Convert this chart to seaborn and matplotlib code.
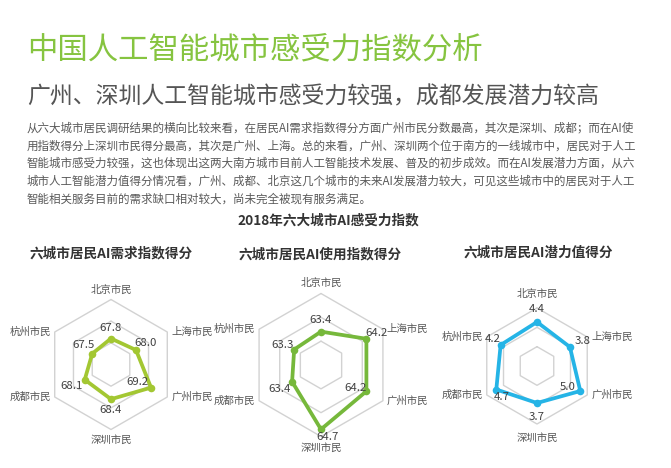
import numpy as np
import matplotlib
matplotlib.use("Agg")
import matplotlib.pyplot as plt
import seaborn as sns

# 数据
cities = ['北京市民', '上海市民', '广州市民', '深圳市民', '成都市民', '杭州市民']
demand = [67.8, 68.0, 69.2, 68.4, 68.1, 67.5]
usage = [63.4, 64.2, 64.2, 64.7, 63.4, 63.3]
potential = [4.4, 3.8, 5.0, 3.7, 4.7, 4.2]

demand_labels = ['67.8', '68.0', '69.2', '68.4', '68.1', '67.5']
usage_labels = ['63.4', '64.2', '64.2', '64.7', '63.4', '63.3']
potential_labels = ['4.4', '3.8', '5.0', '3.7', '4.7', '4.2']

title = '中国人工智能城市感受力指数分析'
subtitle = '广州、深圳人工智能城市感受力较强，成都发展潜力较高'
body = [
    '从六大城市居民调研结果的横向比较来看，在居民AI需求指数得分方面广州市民分数最高，其次是深圳、成都；而在AI使',
    '用指数得分上深圳市民得分最高，其次是广州、上海。总的来看，广州、深圳两个位于南方的一线城市中，居民对于人工',
    '智能城市感受力较强，这也体现出这两大南方城市目前人工智能技术发展、普及的初步成效。而在AI发展潜力方面，从六',
    '城市人工智能潜力值得分情况看，广州、成都、北京这几个城市的未来AI发展潜力较大，可见这些城市中的居民对于人工',
    '智能相关服务目前的需求缺口相对较大，尚未完全被现有服务满足。',
]
chart_title = '2018年六大城市AI感受力指数'

sns.set_theme(style="white")
plt.rcParams['font.family'] = ['Noto Sans CJK SC', 'DejaVu Sans']

W, H = 671, 468
fig = plt.figure(figsize=(W / 100, H / 100), dpi=100)
fig.patch.set_facecolor('white')


def px_box(cx, cy, r):
    return [(cx - r) / W, (H - cy - r) / H, 2 * r / W, 2 * r / H]


def radar(box, values, labels, rlim, color, val_offsets, cat_gap):
    ax = fig.add_axes(box, projection='polar')
    ax.set_theta_zero_location('N')
    ax.set_theta_direction(-1)
    ax.set_ylim(*rlim)
    ax.grid(False)
    ax.spines['polar'].set_visible(False)
    ax.set_xticks([])
    ax.set_yticks([])
    ax.set_facecolor('none')

    theta = np.deg2rad(np.arange(len(cities)) * 60)
    tclosed = np.append(theta, 2 * np.pi)

    # 六边形网格
    lo, hi = rlim
    for k in (1, 2, 3):
        lvl = lo + (hi - lo) * k / 3
        ax.plot(tclosed, [lvl] * len(tclosed), color='#d2d2d2', lw=1, clip_on=False, zorder=1)

    vclosed = values + values[:1]
    sns.lineplot(x=tclosed, y=vclosed, ax=ax, sort=False, color=color, lw=2.7,
                 estimator=None, zorder=3)
    sns.scatterplot(x=theta, y=values, ax=ax, color=color, s=30, linewidth=0, zorder=4)
    ax.set_ylim(*rlim)

    for t, v, lab, (dx, dy) in zip(theta, values, labels, val_offsets):
        ax.annotate(lab, xy=(t, v), xytext=(dx, dy), textcoords='offset pixels',
                    ha='center', va='center', fontsize=8.2, color='#404040', zorder=5)

    cat_pos = [((0, cat_gap), 'center', 'bottom'),
               ((4, 0), 'left', 'center'),
               ((4, 0), 'left', 'center'),
               ((0, -cat_gap), 'center', 'top'),
               ((-4, 0), 'right', 'center'),
               ((-4, 0), 'right', 'center')]
    for t, name, (off, ha, va) in zip(theta, cities, cat_pos):
        ax.annotate(name, xy=(t, hi), xytext=off, textcoords='offset pixels',
                    ha=ha, va=va, fontsize=7.5, color='#555555')
    return ax


radar(px_box(111, 364.5, 65), demand, demand_labels, (66, 70.5), '#a3c732',
      [(0, 11), (10, 7), (-14, 6), (0, -11), (-13, -6), (-9, 9)], 5)
radar(px_box(321, 365, 71.5), usage, usage_labels, (62, 65), '#76b83b',
      [(0, 12), (10, 6), (-11, 3), (7, -8), (-13, -7), (-12, 5)], 6)
radar(px_box(537, 366, 58), potential, potential_labels, (0, 5.8), '#25b4e6',
      [(0, 13), (13, 6), (-13, 4), (0, -14), (5, -8), (-8, 6)], 9)

# 文字
fig.text(27 / W, 1 - 50 / H, title, fontsize=21.9, color='#86c440', va='center', ha='left')
fig.text(27 / W, 1 - 97 / H, subtitle, fontsize=16.5, color='#555555', va='center', ha='left')
for i, line in enumerate(body):
    fig.text(27 / W, 1 - (128 + i * 17.8) / H, line, fontsize=8.3, color='#595959',
             va='center', ha='left')

fig.text(328.5 / W, 1 - 220 / H, chart_title, fontsize=9.8, fontweight='bold',
         color='#333333', ha='center', va='center')
fig.text(111 / W, 1 - 253 / H, '六城市居民AI需求指数得分', fontsize=9.8, fontweight='bold',
         color='#333333', ha='center', va='center')
fig.text(320.5 / W, 1 - 254 / H, '六城市居民AI使用指数得分', fontsize=9.8, fontweight='bold',
         color='#333333', ha='center', va='center')
fig.text(538.5 / W, 1 - 253 / H, '六城市居民AI潜力值得分', fontsize=9.8, fontweight='bold',
         color='#333333', ha='center', va='center')

plt.savefig('out.png', dpi=100, facecolor='white')
